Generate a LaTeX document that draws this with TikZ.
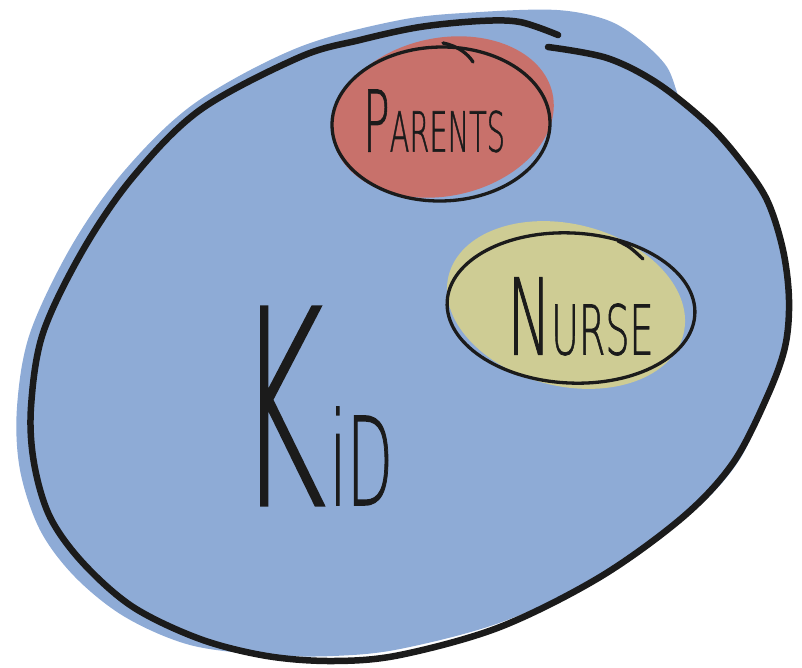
\documentclass[tikz,border=0pt]{standalone}
\usepackage{fontspec}
% a thin sans for the hand-lettered words, thickened a little, with fallbacks
\IfFontExistsTF{DejaVu Sans ExtraLight}
  {\newfontfamily\handfont[FakeBold=1.2]{DejaVu Sans ExtraLight}}
  {\IfFontExistsTF{Lato Light}
     {\newfontfamily\handfont{Lato Light}}
     {\newfontfamily\handfont{DejaVu Sans}}}
% big initial capital followed by smaller letters
\newcommand\capword[4]{{\handfont\fontsize{#3}{#3}\selectfont #1\fontsize{#4}{#4}\selectfont #2}}
\definecolor{kidblue}{HTML}{8EABD6}
\definecolor{parentred}{HTML}{C8716B}
\definecolor{nurseyellow}{HTML}{CECC94}
\definecolor{ink}{HTML}{1B1B1B}
\begin{document}
\begin{tikzpicture}[x=1pt,y=-1pt,
  outline/.style={draw=ink, line width=6.5pt, line cap=round, line join=round},
  rim/.style={draw=ink, line width=3.3pt, line cap=round, line join=round},
  word/.style={inner sep=0pt, outer sep=0pt, text=ink}]
\useasboundingbox (0,0) rectangle (802,667);

% blue wash of the big set
\fill[kidblue] plot[smooth cycle, tension=0.55] coordinates {
  (480,12) (557,10) (607,20) (640,40) (667,67) (680,100) (692,113) (710,126)
  (740,162) (766,202) (782,250) (788,300) (785,347) (769,395) (738,462)
  (689,515) (604,574) (502,622) (400,649) (333,656) (267,655) (190,645)
  (125,617) (75,577) (40,530) (20,470) (17,407) (30,333) (72,245) (125,170)
  (195,103) (297,48) (400,20)};

% pen outline of the big set, open at the top
\draw[outline] plot[smooth, tension=0.55] coordinates {
  (548,47) (607,58) (657,83) (707,123) (740,160) (767,200) (783,250)
  (789,300) (785,347) (767,397) (733,463) (683,517) (600,577) (500,627)
  (400,655) (333,661) (267,656) (200,639) (133,607) (83,563) (50,517)
  (34,463) (31,407) (43,333) (83,250) (133,177) (200,110) (300,57)
  (360,40) (420,27) (480,21) (520,22) (558,35)};

% Parents
\fill[parentred, rotate around={12:(443,117)}] (443,117) ellipse [x radius=112, y radius=79];
\draw[rim, rotate around={1:(441,124)}] (441,124) ellipse [x radius=109, y radius=77];
\draw[rim] (443,43) .. controls (458,46) and (468,54) .. (473,62);

% Nurse
\fill[nurseyellow, rotate around={-14:(566,305)}] (566,305) ellipse [x radius=121, y radius=81];
\draw[rim, rotate around={-3:(571,308)}] (571,308) ellipse [x radius=124, y radius=75];
\draw[rim] (618,241) .. controls (630,247) .. (643,259);

% labels
\node[word] (parents) at (434,121) {\resizebox{142pt}{62pt}{\capword{P}{ARENTS}{20}{13}}};
\node[word] (nurse) at (580.5,316.5) {\resizebox{146pt}{77pt}{\capword{N}{URSE}{20}{13}}};
\node[word] (kid) at (315.5,406) {\resizebox{155pt}{198pt}{{\handfont\fontsize{20}{20}\selectfont K\kern0.6pt\fontsize{9.5}{9.5}\selectfont i\fontsize{9}{9}\selectfont D}}};
\end{tikzpicture}
\end{document}
